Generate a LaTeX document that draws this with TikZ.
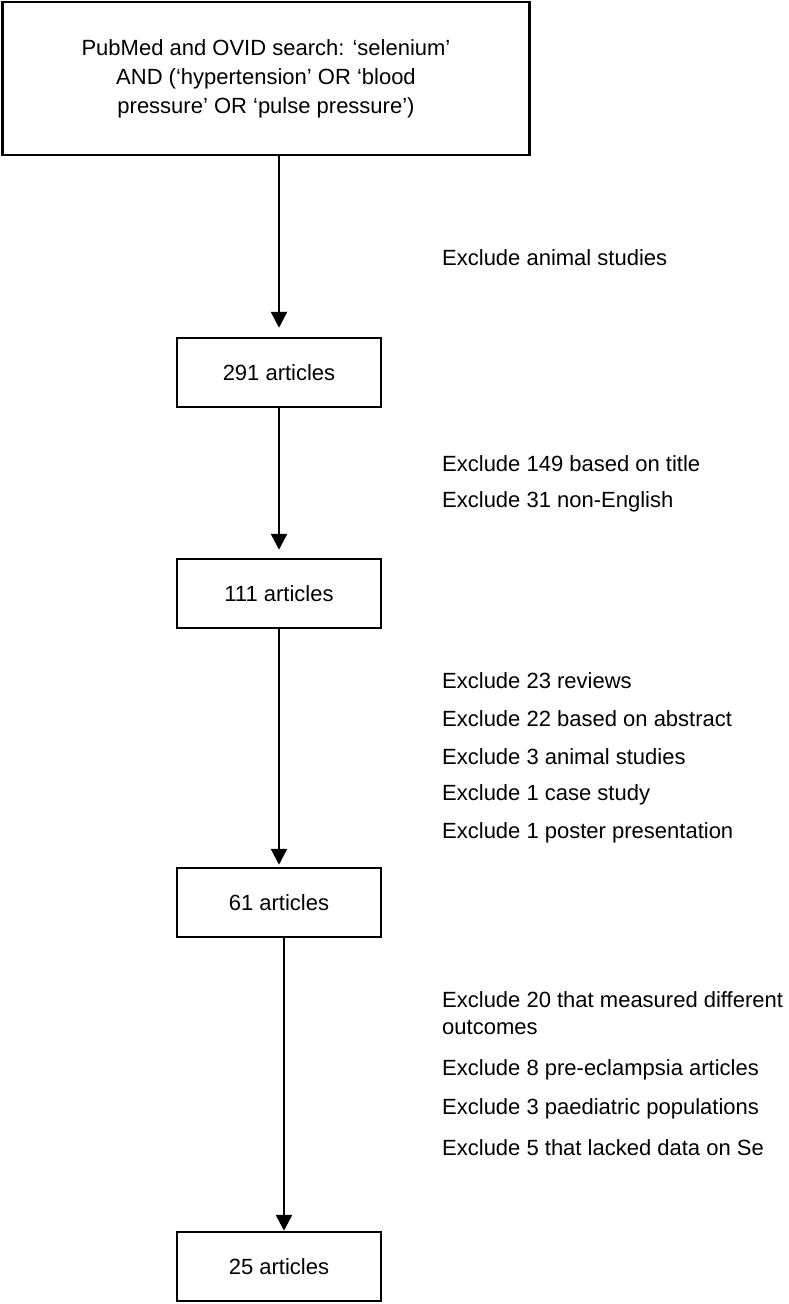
\documentclass[tikz,border=0pt]{standalone}
\usepackage{fontspec}
\setmainfont{Liberation Sans}
\usetikzlibrary{arrows.meta}

\tikzset{
	stagebox/.style={draw, line width=2.5pt, rectangle, inner sep=0pt,
		minimum width=204pt, minimum height=69pt},
	exclnote/.style={anchor=west, inner sep=0pt, align=left},
	flowarrow/.style={line width=2.5pt, -{Triangle[width=16pt,length=16pt]}}
}

\begin{document}
\begin{tikzpicture}[x=1pt,y=-1pt,font=\fontsize{22}{27}\selectfont]
		\useasboundingbox (0,0) rectangle (789,1304);
		
		% search box and the four stages
		\node[stagebox, minimum width=527pt, minimum height=153pt, align=center,
			font=\fontsize{22}{29}\selectfont] (search) at (266,78.5)
			{PubMed and OVID search: ‘selenium’\\AND (‘hypertension’ OR ‘blood\\pressure’ OR ‘pulse pressure’)};
		\node[stagebox] (n291) at (279,372.5) {291 articles};
		\node[stagebox] (n111) at (279,593.5) {111 articles};
		\node[stagebox] (n61) at (279,902.5) {61 articles};
		\node[stagebox] (n25) at (279,1266.5) {25 articles};
		
		% exclusions
		\node[exclnote] (exA) at (442,258) {Exclude animal studies};
		
		\node[exclnote] (exB1) at (442,464) {Exclude 149 based on title};
		\node[exclnote] (exB2) at (442,502) {Exclude 31 non-English};
		
		\node[exclnote] (exC1) at (442,681) {Exclude 23 reviews};
		\node[exclnote] (exC2) at (442,719) {Exclude 22 based on abstract};
		\node[exclnote] (exC3) at (442,757) {Exclude 3 animal studies};
		\node[exclnote] (exC4) at (442,795) {Exclude 1 case study};
		\node[exclnote] (exC5) at (442,833) {Exclude 1 poster presentation};
		
		\node[exclnote] (exD1) at (442,1013.5) {Exclude 20 that measured different\\outcomes};
		\node[exclnote] (exD2) at (442,1070) {Exclude 8 pre-eclampsia articles};
		\node[exclnote] (exD3) at (442,1109) {Exclude 3 paediatric populations};
		\node[exclnote] (exD4) at (442,1148) {Exclude 5 that lacked data on Se};
		
		% arrows
		\draw[flowarrow, shorten >=9pt] (search.south -| n291.north) -- (n291.north);
		\draw[flowarrow, shorten >=8pt] (n291) -- (n111);
		\draw[flowarrow, shorten >=2pt] (n111) -- (n61);
		\draw[flowarrow] ([xshift=5pt]n61.south) -- ([xshift=5pt]n25.north);
		\end{tikzpicture}
\end{document}
